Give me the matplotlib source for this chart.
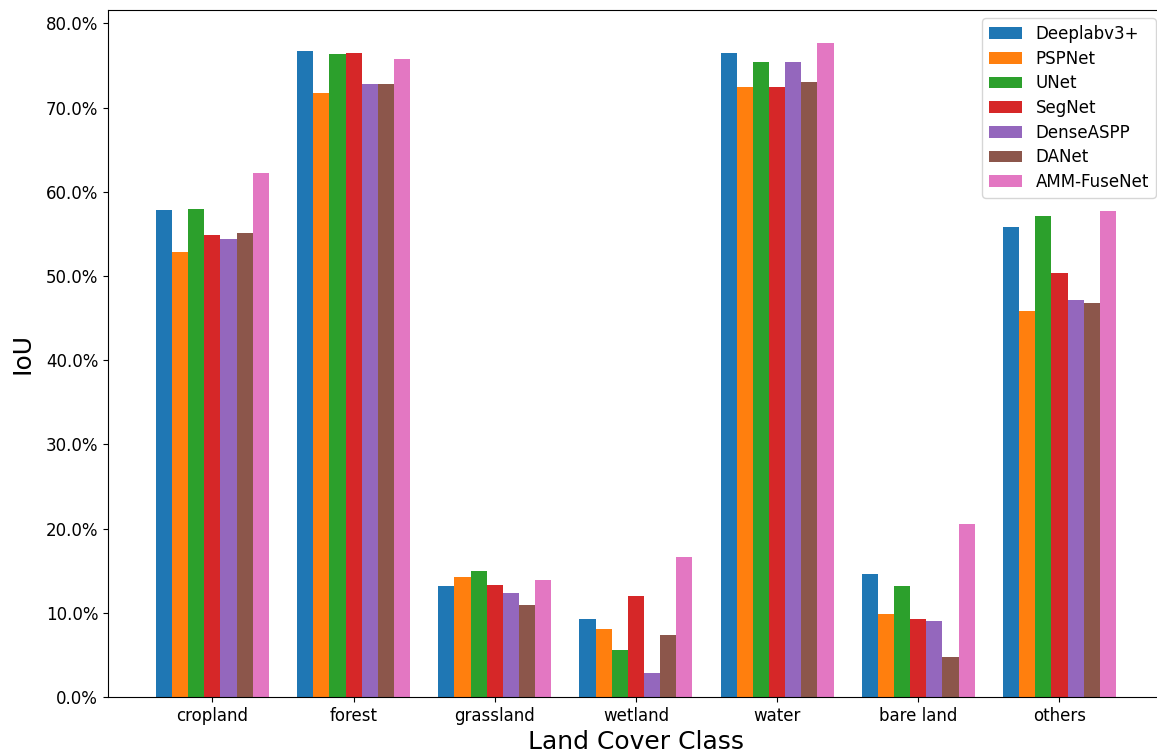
import numpy as np
import matplotlib
matplotlib.use("Agg")
import matplotlib.pyplot as plt
from matplotlib.ticker import PercentFormatter

classes = ["cropland", "forest", "grassland", "wetland", "water", "bare land", "others"]
models = ["Deeplabv3+", "PSPNet", "UNet", "SegNet", "DenseASPP", "DANet", "AMM-FuseNet"]

# IoU (%) per model, one value per land cover class
deeplab = [57.8, 76.7, 13.2, 9.3, 76.5, 14.6, 55.8]
pspnet = [52.8, 71.7, 14.3, 8.1, 72.4, 9.9, 45.8]
unet = [58.0, 76.4, 15.0, 5.6, 75.4, 13.2, 57.1]
segnet = [54.9, 76.5, 13.3, 12.0, 72.5, 9.3, 50.4]
denseaspp = [54.4, 72.8, 12.3, 2.8, 75.4, 9.0, 47.2]
danet = [55.1, 72.8, 10.9, 7.4, 73.0, 4.7, 46.8]
ammfuse = [62.2, 75.8, 13.9, 16.6, 77.7, 20.6, 57.7]

series = [deeplab, pspnet, unet, segnet, denseaspp, danet, ammfuse]

fig = plt.figure(figsize=(11.57, 7.54), dpi=100)
ax = fig.add_axes([0.0933, 0.0756, 0.9127, 0.911])

x = np.arange(len(classes))
width = 0.8 / len(models)
for i, (name, vals) in enumerate(zip(models, series)):
    ax.bar(x - 0.4 + width * (i + 0.5), vals, width, label=name)

ax.set_xticks(x)
ax.set_xticklabels(classes)
ax.tick_params(labelsize=12)
ax.yaxis.set_major_formatter(PercentFormatter(xmax=100, decimals=1))
ax.set_xlabel("Land Cover Class", fontsize=18)
ax.set_ylabel("IoU", fontsize=18, labelpad=8)
ax.legend(loc="upper right", fontsize=12, labelspacing=0.4)

fig.savefig("out.png", dpi=100)
